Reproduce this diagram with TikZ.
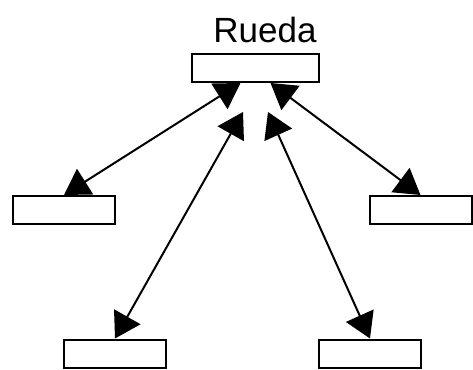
\documentclass[tikz,border=0pt]{standalone}
\usepackage{fontspec}
\setmainfont{Liberation Sans}
\usetikzlibrary{arrows.meta}
\tikzset{
  blank/.style={draw,line width=2pt,minimum width=102pt,minimum height=28pt,inner sep=0pt},
  link/.style={{Triangle[length=25pt,width=30pt]}-{Triangle[length=25pt,width=30pt]},line width=2pt}
}
\begin{document}
\begin{tikzpicture}[x=1pt,y=-1pt]
\useasboundingbox (0,0) rectangle (473,369);
\node[anchor=base,inner sep=0pt,font=\fontsize{35}{40}\selectfont] (title) at (265,42) {Rueda};
\node[blank,minimum width=127pt] (Rueda) at (255.5,68) {};
\node[blank] (left) at (64,210) {};
\node[blank] (right) at (420.5,210) {};
\node[blank] (bleft) at (115,353.5) {};
\node[blank] (bright) at (370,353.5) {};
\coordinate (inL) at (243,112);
\coordinate (inR) at (268,112);

\path[link] ([xshift=-15pt]Rueda.south) edge (left.north);
\path[link] ([xshift=15pt]Rueda.south) edge (right.north);
\path[link] (inL) edge (bleft.north);
\path[link] (inR) edge (bright.north);
\end{tikzpicture}
\end{document}
